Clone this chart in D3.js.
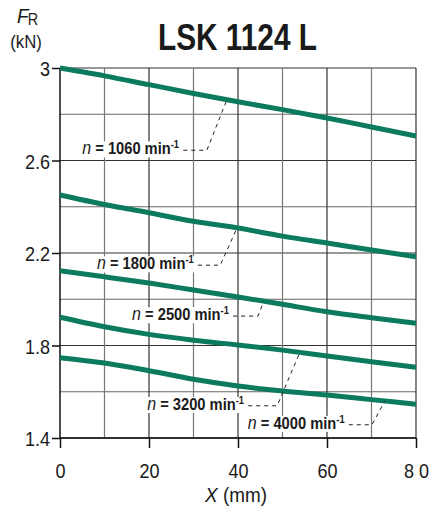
<!DOCTYPE html>
<html>
<head>
<meta charset="utf-8">
<script src="https://cdn.jsdelivr.net/npm/d3@7"></script>
<style>
  html, body { margin: 0; padding: 0; background: #fff; }
  svg { display: block; }
  text { font-family: "Liberation Sans Narrow", "Arial Narrow", "Liberation Sans", Arial, sans-serif; }
</style>
</head>
<body>
<svg id="chart" width="429" height="513"></svg>
<script>
// Radial load capacity F_R versus stroke position X for several speeds
const xValues = [0, 10, 20, 30, 40, 50, 60, 70, 80];
const speeds = [1060, 1800, 2500, 3200, 4000];
const load1060 = [3.000, 2.966, 2.928, 2.890, 2.854, 2.820, 2.784, 2.745, 2.706];
const load1800 = [2.451, 2.410, 2.374, 2.337, 2.308, 2.273, 2.243, 2.213, 2.184];
const load2500 = [2.123, 2.097, 2.070, 2.040, 2.010, 1.978, 1.946, 1.920, 1.896];
const load3200 = [1.922, 1.881, 1.848, 1.823, 1.802, 1.780, 1.755, 1.730, 1.706];
const load4000 = [1.747, 1.724, 1.691, 1.654, 1.625, 1.603, 1.586, 1.566, 1.546];
const seriesLoads = [load1060, load1800, load2500, load3200, load4000];

const yTickValues = [1.4, 1.8, 2.2, 2.6, 3.0];
const yTickLabels = ["1.4", "1.8", "2.2", "2.6", "3"];
const xTickValues = [0, 20, 40, 60, 80];
const xTickLabels = ["0", "20", "40", "60", "8 0"];
const yGridValues = [1.4, 1.6, 1.8, 2.0, 2.2, 2.4, 2.6, 2.8, 3.0];
const xGridValues = [10, 20, 30, 40, 50, 60, 70, 80];

// Speed labels: text start (x, F_R baseline), leader knee x, leader end x on the curve
const labelStartX = [5.0, 8.3, 16.2, 19.6, 42.2];
const labelBaseY  = [2.627, 2.130, 1.910, 1.522, 1.440];
const leaderKneeX = [33.0, 36.0, 44.5, 48.8, 70.1];
const leaderEndX  = [37.5, 39.8, 45.8, 53.9, 73.0];

const title = "LSK 1124 L";
const curveColor = "#0b7a5d";
const ink = "#1a1a1a";

const svg = d3.select("#chart");
const x = d3.scaleLinear().domain([0, 80]).range([60, 416]);
const y = d3.scaleLinear().domain([1.4, 3.0]).range([438, 68]);

// horizontal squeeze about a text's own anchor, to get a condensed face
function condense(sel, sx) {
  sel.each(function () {
    const ax = +this.getAttribute("x") || 0;
    d3.select(this).attr("transform", `translate(${ax},0) scale(${sx},1) translate(${-ax},0)`);
  });
}
// squeeze so the text is exactly `w` pixels wide
function fitWidth(sel, w) {
  sel.each(function () {
    const bw = this.getBBox().width;
    condense(d3.select(this), w / bw);
  });
}

// grid
const grid = svg.append("g");
grid.selectAll("line.h").data(yGridValues).join("line")
  .attr("x1", x(0)).attr("x2", x(80))
  .attr("y1", d => y(d)).attr("y2", d => y(d))
  .attr("stroke", (d, i) => i % 2 ? "#666" : "#333").attr("stroke-width", 1.2);
grid.selectAll("line.v").data(xGridValues).join("line")
  .attr("y1", y(3.0)).attr("y2", y(1.4))
  .attr("x1", d => x(d)).attr("x2", d => x(d))
  .attr("stroke", (d, i) => i % 2 ? "#333" : "#777").attr("stroke-width", 1.2);

// axes
const yAxis = svg.append("g").attr("transform", `translate(${x(0)},0)`)
  .call(d3.axisLeft(y).tickValues(yTickValues).tickSize(8).tickFormat((d, i) => yTickLabels[i]));
const xAxis = svg.append("g").attr("transform", `translate(0,${y(1.4)})`)
  .call(d3.axisBottom(x).tickValues(xTickValues).tickSize(10).tickFormat((d, i) => xTickLabels[i]));
[yAxis, xAxis].forEach(a => {
  a.select(".domain").remove();
  a.selectAll(".tick line").attr("stroke", "#111").attr("stroke-width", 1.5);
  a.selectAll("text").attr("font-family", null).attr("font-size", 21).attr("fill", ink);
});
yAxis.selectAll("text").attr("x", -10).attr("dy", "0.36em");
xAxis.selectAll("text").attr("y", 40).attr("dy", null);
condense(yAxis.selectAll("text"), 0.86);
condense(xAxis.selectAll("text"), 0.86);
svg.append("line").attr("x1", x(0)).attr("x2", x(0)).attr("y1", y(3.0)).attr("y2", y(1.4))
  .attr("stroke", "#111").attr("stroke-width", 1.5);
svg.append("line").attr("x1", x(0)).attr("x2", x(80)).attr("y1", y(1.4)).attr("y2", y(1.4))
  .attr("stroke", "#111").attr("stroke-width", 1.5);

// curves
const line = d3.line().x(d => x(d[0])).y(d => y(d[1])).curve(d3.curveMonotoneX);
svg.append("g").selectAll("path").data(seriesLoads).join("path")
  .attr("d", s => line(xValues.map((v, i) => [v, s[i]])))
  .attr("fill", "none").attr("stroke", curveColor).attr("stroke-width", 5)
  .attr("stroke-linecap", "butt");

function loadAt(s, xv) {
  return d3.scaleLinear().domain(xValues).range(s)(xv);
}

// speed labels with dashed leaders
const labels = svg.append("g");
speeds.forEach((n, i) => {
  const g = labels.append("g");
  const bg = g.append("rect").attr("fill", "#fff");
  const t = g.append("text")
    .attr("x", x(labelStartX[i])).attr("y", y(labelBaseY[i]))
    .attr("font-size", 16.5).attr("fill", ink);
  t.append("tspan").attr("font-style", "italic").attr("font-weight", 400).attr("font-size", 18).text("n");
  t.append("tspan").attr("font-weight", 700).text(` = ${n} min`);
  t.append("tspan").attr("font-weight", 700).attr("font-size", 10.5).attr("dy", -6).text("-1");
  fitWidth(t, 97);
  const bb = t.node().getBBox();
  const sx = 97 / bb.width;
  const right = bb.x + bb.width * sx;
  bg.attr("x", bb.x - 1).attr("y", bb.y + 3).attr("width", bb.width * sx + 2).attr("height", bb.height - 4);
  const ky = y(labelBaseY[i]) - 4;
  const pts = [
    [right + 4, ky],
    [x(leaderKneeX[i]), ky],
    [x(leaderEndX[i]), y(loadAt(seriesLoads[i], leaderEndX[i]))]
  ];
  g.append("path").attr("d", d3.line()(pts))
    .attr("fill", "none").attr("stroke", "#222").attr("stroke-width", 1)
    .attr("stroke-dasharray", "4,4");
});

// title
const tt = svg.append("text")
  .attr("x", 158).attr("y", 50)
  .attr("font-size", 37).attr("font-weight", 700).attr("fill", ink).text(title);
fitWidth(tt, 159);

// y axis title
const yt = svg.append("text").attr("x", 17).attr("y", 23).attr("fill", ink);
yt.append("tspan").attr("font-style", "italic").attr("font-size", 21).text("F");
yt.append("tspan").attr("font-size", 16).attr("dx", -1).attr("dy", 2).text("R");
condense(yt, 0.9);
const ku = svg.append("text").attr("x", 26).attr("y", 48).attr("text-anchor", "middle")
  .attr("font-size", 19).attr("fill", ink).text("(kN)");
condense(ku, 0.88);

// x axis title
const xt = svg.append("text").attr("x", 236).attr("y", 502)
  .attr("text-anchor", "middle").attr("font-size", 21).attr("fill", ink);
xt.append("tspan").attr("font-style", "italic").text("X");
xt.append("tspan").text(" (mm)");
condense(xt, 0.9);
</script>
</body>
</html>
